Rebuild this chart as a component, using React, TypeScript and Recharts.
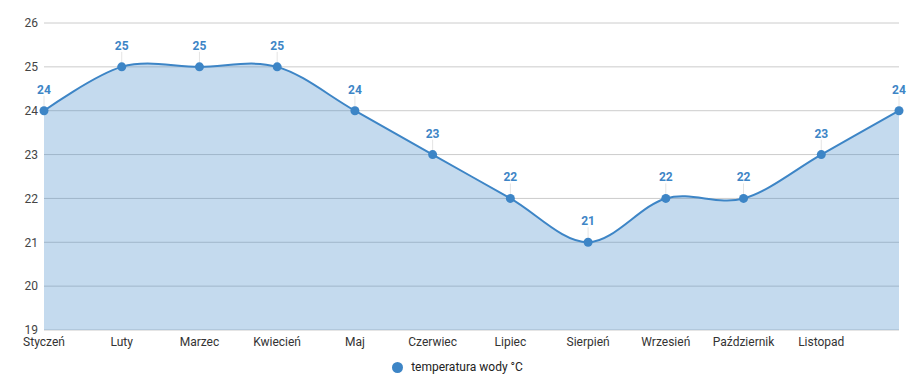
import { AreaChart, Area, XAxis, YAxis, CartesianGrid, Legend } from "recharts";

const months = [
  "Styczeń",
  "Luty",
  "Marzec",
  "Kwiecień",
  "Maj",
  "Czerwiec",
  "Lipiec",
  "Sierpień",
  "Wrzesień",
  "Październik",
  "Listopad",
  "Grudzień",
];
const waterTemp = [24, 25, 25, 25, 24, 23, 22, 21, 22, 22, 23, 24];
const yTicks = [19, 20, 21, 22, 23, 24, 25, 26];

const BLUE = "#3d85c6";
const FONT = "Roboto, Arial, sans-serif";

const data = months.map((m, i) => ({ month: m, temp: waterTemp[i] }));

// catmull-rom (cardinal, tension 0) — same as d3's curveCardinal, written out since d3 can't be imported
function cardinalCurve(context: any) {
  const k = 1 / 6;
  let x0 = NaN, x1 = NaN, x2 = NaN, y0 = NaN, y1 = NaN, y2 = NaN;
  let pt = 0;
  let line = NaN;
  const bez = (x: number, y: number) =>
    context.bezierCurveTo(
      x1 + k * (x2 - x0),
      y1 + k * (y2 - y0),
      x2 + k * (x1 - x),
      y2 + k * (y1 - y),
      x2,
      y2,
    );
  return {
    areaStart() {
      line = 0;
    },
    areaEnd() {
      line = NaN;
    },
    lineStart() {
      x0 = x1 = x2 = y0 = y1 = y2 = NaN;
      pt = 0;
    },
    lineEnd() {
      if (pt === 2) context.lineTo(x2, y2);
      else if (pt === 3) bez(x1, y1);
      if (line || (line !== 0 && pt === 1)) context.closePath();
      line = 1 - line;
    },
    point(x: number, y: number) {
      x = +x;
      y = +y;
      if (pt === 0) {
        pt = 1;
        line ? context.lineTo(x, y) : context.moveTo(x, y);
      } else if (pt === 1) {
        pt = 2;
        x1 = x;
        y1 = y;
      } else {
        pt = 3;
        bez(x, y);
      }
      x0 = x1; x1 = x2; x2 = x;
      y0 = y1; y1 = y2; y2 = y;
    },
  };
}

function renderDot(p: any) {
  const { cx, cy, index, payload } = p;
  if (cx == null || cy == null) return <g key={index} />;
  return (
    <g key={index}>
      <line x1={cx} x2={cx} y1={cy - 15} y2={cy - 4} stroke="#e4e4e4" strokeWidth={1} />
      <circle cx={cx} cy={cy} r={4.5} fill={BLUE} />
      <text
        x={cx}
        y={cy - 17}
        textAnchor="middle"
        fontFamily={FONT}
        fontSize={12}
        fontWeight={700}
        fill={BLUE}
      >
        {payload.temp}
      </text>
    </g>
  );
}

function LegendBox() {
  return (
    <div
      style={{
        height: 24,
        display: "flex",
        alignItems: "center",
        justifyContent: "center",
        paddingLeft: 16,
        fontFamily: FONT,
        fontSize: 12,
        color: "#222",
      }}
    >
      <span
        style={{
          width: 11,
          height: 11,
          borderRadius: "50%",
          background: BLUE,
          display: "inline-block",
          marginRight: 8,
        }}
      />
      temperatura wody °C
    </div>
  );
}

export default function App() {
  return (
    <div style={{ position: "absolute", left: 0, top: 0, width: 917, height: 391, background: "#fff" }}>
      <AreaChart width={917} height={391} data={data} margin={{ top: 23, right: 18, left: 0, bottom: 12 }}>
        <CartesianGrid stroke="#cccccc" vertical={false} />
        <XAxis
          dataKey="month"
          axisLine={false}
          tickLine={false}
          tickSize={5}
          tickMargin={2}
          interval={0}
          height={25}
          tick={{ fill: "#333", fontSize: 12, fontFamily: FONT }}
          tickFormatter={(v: string, i: number) => (i === months.length - 1 ? "" : v)}
        />
        <YAxis
          domain={[19, 26]}
          ticks={yTicks}
          axisLine={false}
          tickLine={false}
          tickSize={4}
          tickMargin={2}
          width={44}
          tick={{ fill: "#444", fontSize: 12, fontFamily: FONT }}
        />
        <Legend verticalAlign="bottom" content={() => <LegendBox />} />
        <Area
          type={cardinalCurve as any}
          dataKey="temp"
          name="temperatura wody °C"
          stroke={BLUE}
          strokeWidth={2}
          fill={BLUE}
          fillOpacity={0.3}
          dot={renderDot}
          activeDot={false}
          isAnimationActive={false}
        />
      </AreaChart>
    </div>
  );
}
